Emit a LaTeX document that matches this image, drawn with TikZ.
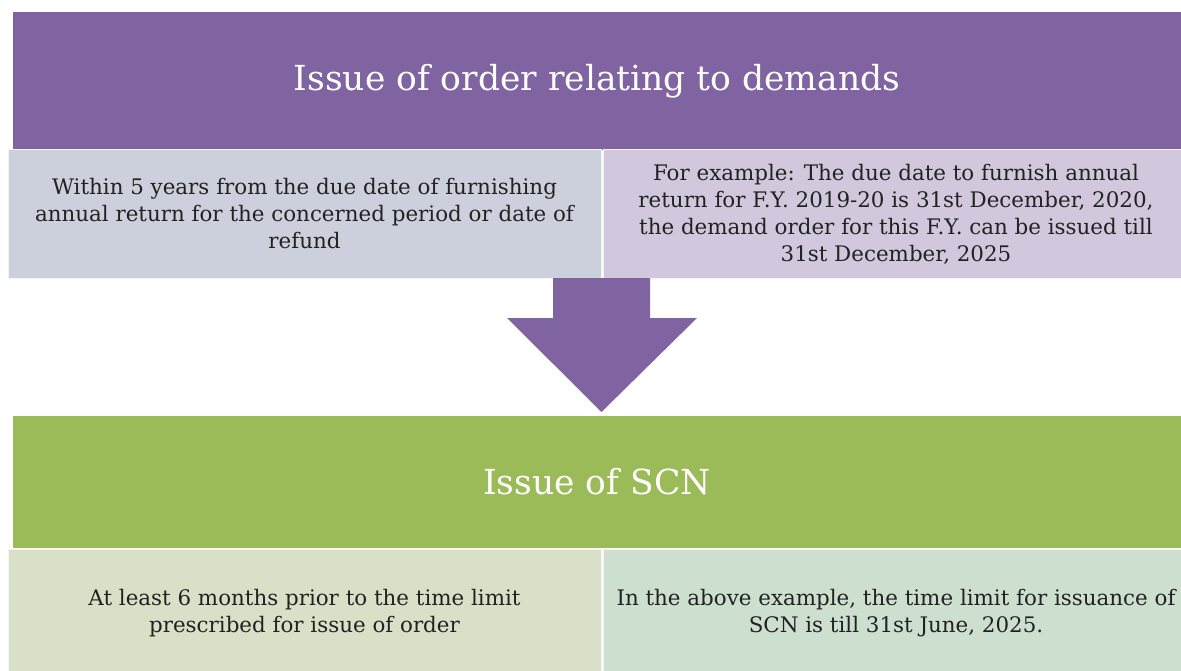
\documentclass[tikz,border=0pt]{standalone}
\usepackage{fontspec}
\setmainfont{DejaVu Serif}
\definecolor{purp}{HTML}{8064A2}
\definecolor{grn}{HTML}{9BBB59}
\definecolor{tlbox}{HTML}{CBD0DC}
\definecolor{trbox}{HTML}{D1C8DD}
\definecolor{blbox}{HTML}{D8E1C7}
\definecolor{brbox}{HTML}{CDE0CF}
\definecolor{txt}{HTML}{222222}
\tikzset{
  header/.style={inner sep=0pt, text=white, font=\fontsize{34.5}{40}\selectfont},
  sub/.style={inner sep=0pt, draw=white!70!gray!30, line width=1pt, text=txt, align=center,
     font=\fontsize{21.4}{27}\selectfont},
}
\begin{document}
\begin{tikzpicture}[x=1pt,y=-1pt]
\useasboundingbox (0,0) rectangle (1181,671);
\clip (0,0) rectangle (1181,671);
% top header
\node[header, fill=purp, minimum width=1168pt, minimum height=138pt] (h1) at (597,81) {Issue of order relating to demands};
\node[sub, fill=tlbox, minimum width=593pt, minimum height=128pt] (tl) at (304.5,214)
  {Within 5 years from the due date of furnishing\\annual return for the concerned period or date of\\refund};
\node[sub, fill=trbox, minimum width=586pt, minimum height=128pt] (tr) at (896,214)
  {For example: The due date to furnish annual\\return for F.Y. 2019-20 is 31st December, 2020,\\the demand order for this F.Y. can be issued till\\31st December, 2025};
% block arrow
\fill[purp] (553,278) -- (650,278) -- (650,318) -- (697,318) -- (601.5,412) -- (507,318) -- (553,318) -- cycle;
% bottom header
\node[header, fill=grn, minimum width=1168pt, minimum height=132pt] (h2) at (597,482) {Issue of SCN};
\node[sub, fill=blbox, minimum width=593pt, minimum height=128pt] (bl) at (304.5,613)
  {At least 6 months prior to the time limit\\prescribed for issue of order};
\node[sub, fill=brbox, minimum width=586pt, minimum height=128pt] (br) at (896,613)
  {In the above example, the time limit for issuance of\\SCN is till 31st June, 2025.};
\end{tikzpicture}
\end{document}
